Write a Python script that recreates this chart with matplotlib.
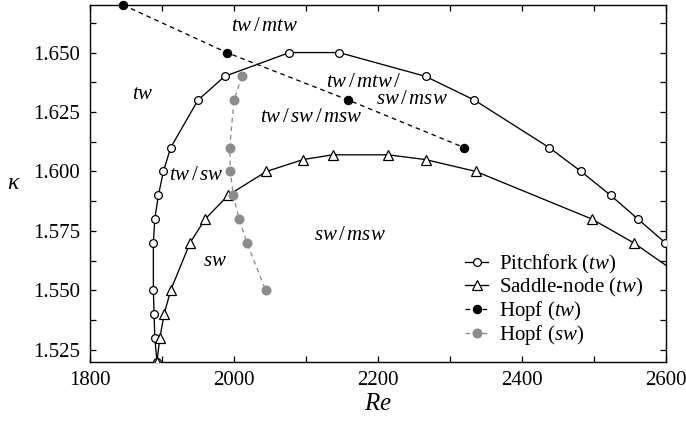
import matplotlib
matplotlib.use("Agg")
import matplotlib.pyplot as plt
from matplotlib.ticker import MultipleLocator, FormatStrFormatter

plt.rcParams['font.family'] = ['Liberation Serif', 'DejaVu Serif']
plt.rcParams['mathtext.fontset'] = 'custom'
plt.rcParams['mathtext.rm'] = 'Liberation Serif'
plt.rcParams['mathtext.it'] = 'Liberation Serif:italic'
plt.rcParams['mathtext.bf'] = 'Liberation Serif:bold'

# Pitchfork bifurcation of travelling waves
pf_re = [1893, 1890, 1889, 1888, 1888, 1890, 1895, 1902, 1912, 1950, 1987,
         2077, 2146, 2266, 2334, 2438, 2482, 2523, 2561, 2599]
pf_kappa = [1.520, 1.530, 1.540, 1.550, 1.570, 1.580, 1.590, 1.600, 1.610, 1.630, 1.640,
            1.650, 1.650, 1.640, 1.630, 1.610, 1.600, 1.590, 1.580, 1.570]

# Saddle-node bifurcation of travelling waves
sn_re = [1893, 1897, 1903, 1912, 1939, 1960, 1992, 2045, 2096, 2137, 2214, 2266,
         2336, 2497, 2555, 2650]
sn_kappa = [1.520, 1.530, 1.540, 1.550, 1.570, 1.580, 1.590, 1.600, 1.605, 1.607, 1.607, 1.605,
            1.600, 1.580, 1.570, 1.550]

# Hopf bifurcation of travelling waves
htw_re = [1846, 1990, 2159, 2320]
htw_kappa = [1.670, 1.650, 1.630, 1.610]

# Hopf bifurcation of standing waves
hsw_re = [2011, 2000, 1994, 1995, 1999, 2007, 2018, 2044]
hsw_kappa = [1.640, 1.630, 1.610, 1.600, 1.590, 1.580, 1.570, 1.550]

# Region labels
region_text = [r'$tw\,/\,mtw$', r'$tw$', r'$tw\,/\,mtw\,/$', r'$sw\,/\,msw$',
               r'$tw\,/\,sw\,/\,msw$', r'$tw\,/\,sw$', r'$sw\,/\,msw$', r'$sw$']
region_re = [2043, 1873, 2181, 2247, 2107, 1947, 2161, 1974]
region_kappa = [1.6608, 1.6322, 1.6376, 1.6301, 1.6225, 1.5984, 1.5731, 1.5622]

fig = plt.figure(figsize=(6.86, 4.21), dpi=100)
ax = fig.add_axes([0.1312, 0.1409, 0.8396, 0.8472])

lw = 0.95
gray = '#8c8c8c'
ax.plot(pf_re, pf_kappa, '-o', color='k', lw=lw, mfc='white', mec='k', ms=5.6, mew=0.9,
        label=r'Pitchfork ($tw$)', zorder=3)
ax.plot(sn_re, sn_kappa, '-^', color='k', lw=lw, mfc='white', mec='k', ms=7.5, mew=0.9,
        label=r'Saddle-node ($tw$)', zorder=3)
ax.plot(htw_re, htw_kappa, '--o', color='k', lw=lw, mfc='k', mec='k', ms=5.8,
        dashes=(3.5, 3), label=r'Hopf ($tw$)', zorder=4, clip_on=False)
ax.plot(hsw_re, hsw_kappa, '--o', color=gray, lw=lw, mfc=gray, mec=gray, ms=6.2,
        dashes=(3.5, 3), label=r'Hopf ($sw$)', zorder=4)

for t, x, y in zip(region_text, region_re, region_kappa):
    ax.text(x, y, t, ha='center', va='center', fontsize=15)

ax.set_xlim(1800, 2600)
ax.set_ylim(1.52, 1.67)
ax.xaxis.set_major_locator(MultipleLocator(200))
ax.xaxis.set_minor_locator(MultipleLocator(100))
ax.yaxis.set_major_locator(MultipleLocator(0.025))
ax.yaxis.set_minor_locator(MultipleLocator(0.0125))
ax.yaxis.set_major_formatter(FormatStrFormatter('%.3f'))
ax.tick_params(which='both', direction='in', top=True, right=True, labelsize=15,
               width=0.9, pad=7)
ax.tick_params(which='major', length=4.5)
ax.tick_params(which='minor', length=4.5)
for s in ax.spines.values():
    s.set_linewidth(1.0)

ax.set_xlabel(r'$Re$', fontsize=18, labelpad=2)
ax.set_ylabel(r'$\kappa$', fontsize=17, rotation=0, labelpad=14, va='center')

ax.legend(loc='lower right', bbox_to_anchor=(0.985, 0.0), frameon=False, fontsize=15,
          handlelength=1.1, handletextpad=0.5, labelspacing=0.0, borderaxespad=0.3)

fig.savefig('out.png', dpi=100)
